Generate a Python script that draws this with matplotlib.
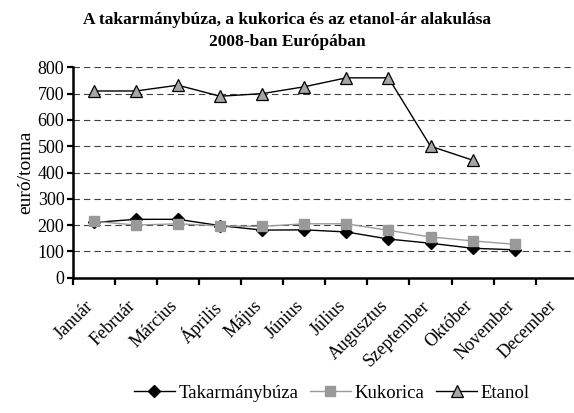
import matplotlib
matplotlib.use("Agg")
import matplotlib.pyplot as plt
import matplotlib.transforms as mtransforms
import numpy as np

# data
honapok = ["Január", "Február", "Március", "Április", "Május", "Június",
           "Július", "Augusztus", "Szeptember", "Október", "November", "December"]
takarmanybuza = [210, 222, 222, 198, 181, 182, 174, 147, 131, 112, 106]
kukorica = [215, 200, 205, 197, 195, 205, 205, 180, 155, 140, 127]
etanol = [710, 710, 732, 690, 700, 726, 760, 760, 500, 447]

plt.rcParams['font.family'] = ['Liberation Serif', 'DejaVu Serif']

fig = plt.figure(figsize=(5.74, 4.13), dpi=100)
ax = fig.add_axes([0.1267, 0.3276, 0.88, 0.5094])

x = np.arange(len(honapok))

# gridlines
ax.set_axisbelow(True)
ax.yaxis.grid(True, color='#404040', linestyle=(0, (5.8, 3.6)), linewidth=0.8)

ax.plot(x[:len(takarmanybuza)], takarmanybuza, color='black', linewidth=1.0,
        marker='D', markersize=6, markerfacecolor='black', markeredgecolor='black',
        label='Takarmánybúza', zorder=3)
ax.plot(x[:len(kukorica)], kukorica, color='#9a9a9a', linewidth=1.0,
        marker='s', markersize=6.5, markerfacecolor='#999999', markeredgecolor='#999999',
        label='Kukorica', zorder=4)
ax.plot(x[:len(etanol)], etanol, color='black', linewidth=1.0,
        marker='^', markersize=8, markerfacecolor='#a6a6a6', markeredgecolor='black',
        markeredgewidth=0.9, label='Etanol', zorder=5)

ax.set_xlim(-0.5, len(honapok) - 0.5)
ax.set_ylim(0, 800)
ax.set_yticks(range(0, 801, 100))

# category labels at centres, tick marks at the boundaries
ax.set_xticks(np.arange(-0.5, len(honapok), 1.0))
ax.set_xticklabels([])
ax.set_xticks(x, minor=True)
ax.set_xticklabels(honapok, minor=True, rotation=45, ha='right',
                   rotation_mode='anchor', fontsize=13)
ax.tick_params(axis='x', which='minor', length=0, pad=14)
ax.tick_params(axis='x', which='major', length=5, width=1.6, direction='out')
ax.tick_params(axis='y', length=4, width=1.6, direction='out', labelsize=13, pad=2)
shift = mtransforms.ScaledTranslation(-9 / 100, 0, fig.dpi_scale_trans)
for lbl in ax.get_xticklabels(minor=True):
    lbl.set_transform(lbl.get_transform() + shift)

for s in ['top', 'right']:
    ax.spines[s].set_visible(False)
for s in ['left', 'bottom']:
    ax.spines[s].set_linewidth(1.8)

ax.set_ylabel('euró/tonna', fontsize=14, labelpad=2)

fig.text(0.5, 0.925, 'A takarmánybúza, a kukorica és az etanol-ár alakulása\n2008-ban Európában',
         ha='center', va='center', fontsize=12.5, fontweight='bold', linespacing=1.45)

fig.legend(loc='center', bbox_to_anchor=(0.578, 0.048), ncol=3, frameon=False,
           fontsize=13.5, handlelength=2.2, handletextpad=0.2, columnspacing=0.6)

fig.savefig('out.png', dpi=100)
